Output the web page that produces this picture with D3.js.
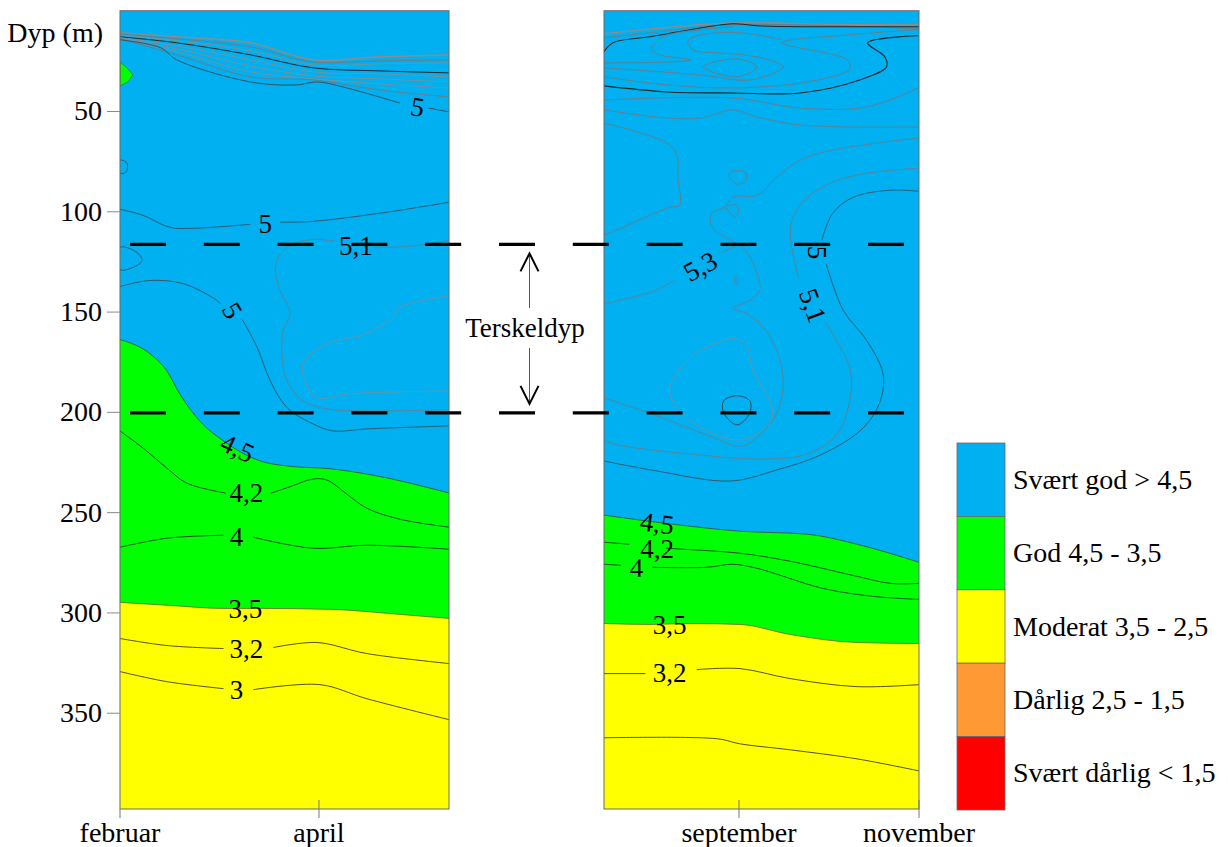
<!DOCTYPE html>
<html><head><meta charset="utf-8">
<script src="https://cdn.jsdelivr.net/npm/d3@7"></script>
<style>
body{margin:0;background:#fff}
svg{display:block}
</style>
</head><body>
<svg id="c" width="1228" height="847"></svg>
<script>
// ---------------- DATA ----------------
const depthTicks = [50, 100, 150, 200, 250, 300, 350];
const leftMonthTicks = [2, 4];
const leftMonthLabels = ["februar", "april"];
const rightMonthTicks = [9, 11];
const rightMonthLabels = ["september", "november"];
const thresholdDepths = [116.5, 200.5];
const thresholdLabel = "Terskeldyp";
const depthLabel = "Dyp (m)";
const legendClasses = ["Svært god > 4,5", "God 4,5 - 3,5", "Moderat 3,5 - 2,5", "Dårlig 2,5 - 1,5", "Svært dårlig < 1,5"];

// LEFT PANEL (x = month number, y = depth m)
const L_iso45 = [[2.0,164],[2.30,171],[2.47,179.5],[2.60,191],[2.80,204.5],[3.04,214.5],[3.41,224.5],[3.68,227],[4.14,228.5],[4.48,231],[5.31,240.5]];
const L_iso35 = [[2.0,295],[2.5,296.5],[3.04,298],[3.44,298],[4.14,298.5],[4.7,300.5],[5.31,303]];
const L_greenPatch = [[2.0,25.5],[2.07,28.5],[2.13,32],[2.08,35.5],[2.0,37.5]];
const L_iso42 = [[[2.0,209.5],[2.23,218],[2.47,228],[2.67,235.5],[3.06,240.5]],[[3.52,240.5],[3.7,237.5],[3.94,233.5],[4.08,234],[4.28,241],[4.48,248],[4.81,253.5],[5.31,257.5]]];
const L_iso40 = [[[2.0,267.5],[2.47,263],[3.04,261.5]],[[3.34,262.5],[3.94,268],[4.48,266.5],[5.31,268.5]]];
const L_iso32 = [[[2.0,313],[2.47,316.5],[3.04,318]],[[3.54,317.5],[3.98,315],[4.48,320.5],[5.31,325.5]]];
const L_iso30 = [[[2.0,329.5],[2.47,334.5],[3.04,338]],[[3.34,338.5],[4.01,336],[4.48,343],[5.31,353.5]]];
const L_iso50a = [[[2.0,99],[2.23,102],[2.50,108],[2.73,108.5],[3.31,106.5]],[[3.61,105.5],[3.94,105],[4.61,101],[5.31,95.5]]];
const L_iso50b = [[[2.0,137.5],[2.30,134.5],[2.63,136],[2.93,143],[3.01,146]],[[3.23,154],[3.38,168],[3.51,184.5],[3.68,198],[3.94,206],[4.14,209.5],[4.48,208.5],[5.31,207]]];
const L_iso51 = [[[5.31,114.5],[4.9,117.5],[4.56,118]],[[4.16,115],[3.94,114],[3.71,117],[3.59,123],[3.56,129.5],[3.61,139.5],[3.71,151],[3.64,159.5],[3.63,173],[3.68,184.5],[3.84,194.5],[4.08,198.5],[4.48,199.5],[5.31,199]]];
const L_iso52 = [[[5.31,142],[4.81,148],[4.74,153],[4.48,161],[4.08,166],[3.84,176],[3.86,184.5],[3.98,193],[4.3,191],[5.31,189.5]]];
const L_loop1 = [[2.0,74.5],[2.07,76],[2.06,80.5],[2.0,81]];
const L_loop2 = [[2.0,118],[2.17,120.5],[2.22,124.5],[2.13,128],[2.0,129]];
const L_bundleMonths = [2.0, 2.57, 3.31, 3.94, 4.61, 5.31];
const L_topA = [11, 13, 16, 24.5, 23, 22];
const L_topB = [11.5, 14, 18, 25.5, 25, 24.5];
const L_topC = [12, 15, 20, 27, 26.5, 26];
const L_topD = [13, 16, 22, 28.5, 30, 31];
const L_topE = [13.5, 17.5, 24.5, 30.5, 31.5, 33];
const L_topF = [13.5, 19, 27.5, 32.5, 34, 35.5];
const L_topG = [14, 20.5, 30.5, 34, 36.5, 38.5];
const L_topH = [14, 22, 33, 34.5, 39.5, 43];
const L_iso50top = [[[2.0,14.5],[2.41,18.5],[2.57,24.5],[3.31,35.5],[3.78,37],[3.98,35.5],[4.24,38],[4.81,46]],[[5.1,48.5],[5.31,50.5]]];

// RIGHT PANEL
const R_iso45 = [[7.5,251.5],[8.26,256],[9.01,259.5],[9.76,261],[10.31,266],[11,275]];
const R_iso35 = [[7.5,305.5],[8.01,306],[8.46,305.5],[9.01,306],[9.57,311],[10.31,315],[11,315.5]];
const R_iso42 = [[[7.5,265],[7.78,266]],[[8.19,268],[8.38,268.5],[9.01,270.5],[9.57,274.5],[10.31,282],[10.68,285.5],[11,285.5]]];
const R_iso40 = [[[7.5,276],[7.69,276.5]],[[8.04,277.5],[8.64,277.5],[8.93,276],[9.2,278],[9.93,288],[10.49,292],[11,293.5]]];
const R_iso32 = [[[7.5,330.5],[7.96,330.5]],[[8.53,328.5],[9.01,328],[9.57,333],[10.31,337],[11,336]]];
const R_iso30 = [[[7.5,362.5],[8.76,363],[9.01,365.5],[9.57,368.5],[10.31,373],[11,379]]];
const R_iso50 = [[[10.99,90],[10.68,89.5],[10.27,93],[10.04,101],[9.92,114.5]],[[9.97,126.5],[10.16,149.5],[10.42,164.5],[10.6,181],[10.57,194.5],[10.38,208],[9.93,221],[9.38,229.5],[8.9,234.5],[8.09,229.5],[7.5,224.5]]];
const R_iso51 = [[[10.99,78.5],[10.42,81],[10.04,85.5],[9.76,93],[9.6,103],[9.57,112],[9.62,125.5],[9.66,133]],[[9.96,155.5],[10.23,178],[10.23,194.5],[10.09,211],[9.76,221],[9.2,223.5],[8.46,221],[7.71,217],[7.5,214.5]]];
const R_iso52 = [[[10.99,63.5],[10.04,69.5],[9.68,74.5],[9.42,83],[9.2,92],[8.93,93],[8.84,98],[8.71,100.5],[8.68,104.5],[8.73,109.5],[8.87,113.5],[9.07,119.5],[9.2,131],[9.23,139.5],[9.12,144.5],[8.93,148.5],[9.09,151],[9.27,158],[9.42,169.5],[9.49,183],[9.46,196],[9.34,206],[9.04,217],[8.64,211.5],[8.09,202],[7.5,193]]];
const R_iso53 = [[[7.5,146],[8.01,140.5],[8.29,134.5]],[[8.81,120.5],[8.96,117.5]]];
const R_iso54 = [[8.23,188],[8.46,173],[8.64,168],[8.93,163.5],[9.07,166],[9.16,179.5],[9.34,194.5],[9.37,203],[9.2,211],[8.98,214],[8.64,209.5],[8.31,198]];
const R_core = [[8.98,192],[9.12,194.5],[9.12,200.5],[8.98,206.5],[8.83,200.5],[8.83,194.5]];
const R_hex = [[8.9,80.5],[9.07,80.5],[9.08,84.5],[8.98,86.5],[8.9,83.5]];
const R_loopS = [[8.84,98],[8.98,97],[8.99,100.5],[8.96,103],[8.88,99.5]];
const R_dot = [[8.96,132.5],[8.98,132.5],[8.98,136.5],[8.96,136.5]];
const R_open1 = [[[7.5,56],[8.2,66],[8.31,72],[8.32,83],[8.34,97],[8.23,98],[7.71,108],[7.5,112]]];
const R_lineE = [[[7.5,49.5],[8.2,53.5],[8.57,53.5],[8.93,49.5],[9.2,53],[9.68,57],[10.99,58]]];
const R_lineD = [[[7.5,44.5],[8.93,43.5],[9.68,48.5],[10.42,48],[10.99,38.5]]];
const R_top4 = [[[7.5,37.5],[8.2,40.5],[8.93,41],[9.68,41],[10.34,34.5],[10.64,28],[10.62,23],[10.43,16],[10.99,12.5]]];
const R_lineA = [[[10.99,9.5],[10.23,12],[9.48,16],[10.2,24.5],[10.23,29],[9.76,35.5],[8.93,38.5],[8.2,37],[7.5,33]]];
const R_lineB = [[[7.5,26],[8.27,25.5],[8.46,24.5],[8.12,22],[8.03,19.5],[8.07,16],[8.18,12.5],[8.57,9.5],[8.93,8]]];
const R_lineC = [[[7.5,28.5],[8.57,32],[9.12,34.5],[9.49,28],[9.2,23],[8.76,21],[8.49,19.5],[8.43,15.5],[8.53,12.5],[9.01,11],[9.48,14.5]]];
const R_diamond = [[8.6,28],[8.98,24],[9.2,28],[8.98,33]];
const R_top1 = [[[7.5,11.5],[8.93,6],[10.04,7],[11,7]]];
const R_top2 = [[[7.5,20.5],[7.6,16],[8.01,13],[8.93,6.5],[9.2,7.5],[11,8]]];
const R_top3 = [[[7.5,13.5],[8.01,11],[8.93,7],[11,9]]];

// contour labels (text, panel, month, depth, angle)
const labelTexts  = ["5","5","5,1","5","4,5","4,2","4","3,5","3,2","3","4,5","4,2","4","3,5","3,2","5,3","5","5,1"];
const labelPanels = ["L","L","L","L","L","L","L","L","L","L","R","R","R","R","R","R","R","R"];
const labelMonths = [4.99,3.46,4.37,3.13,3.18,3.27,3.17,3.26,3.27,3.17,8.09,8.09,7.86,8.23,8.23,8.57,9.87,9.82];
const labelDepths = [48,106,117,149.5,218,240.5,262.5,298,318.3,338.5,255.5,268.5,278,306,330,127.5,120.5,147];
const labelAngles = [10,0,0,60,25,0,0,0,0,0,8,0,0,0,0,-28,90,70];

// ---------------- STYLE / LAYOUT ----------------
const FONT = "'Liberation Serif', 'DejaVu Serif', 'Noto Serif', 'Times New Roman', Times, serif";
const COL = {blue:"#00B0F0", green:"#00FF00", yellow:"#FFFF00", orange:"#FF9933", red:"#FF0000"};
const legendColors = [COL.blue, COL.green, COL.yellow, COL.orange, COL.red];
const SK = {dark:"#262626", mid:"#3d4650", grey:"#6f7880", light:"#868d93"};
const DMAX = 398;

const svg = d3.select("#c").attr("font-family", FONT);
const y = d3.scaleLinear().domain([0, DMAX]).range([10.7, 809]);
const xL = d3.scaleLinear().domain([2, 5.307]).range([120, 449]);
const xR = d3.scaleLinear().domain([7.5, 11]).range([604, 919]);

function txt(sel, size){
  return sel.attr("font-family", FONT).style("font-family", FONT).style("font-size", size+"px").attr("fill","#000");
}

const defs = svg.append("defs");
function clip(id, x){
  defs.append("clipPath").attr("id", id).append("rect")
    .attr("x", x.range()[0]).attr("y", y.range()[0])
    .attr("width", x.range()[1]-x.range()[0]).attr("height", y.range()[1]-y.range()[0]);
}
clip("clipL", xL); clip("clipR", xR);

const single = a => [a];
const bundle = arr => [L_bundleMonths.map((m,i)=>[m, arr[i]])];

const leftLines = [
  {segs:single(L_loop1), closed:true, c:SK.mid, w:0.8},
  {segs:single(L_loop2), closed:true, c:SK.mid, w:0.8},
  {segs:bundle(L_topA), c:SK.light, w:1.6},
  {segs:bundle(L_topB), c:SK.grey, w:0.9},
  {segs:bundle(L_topC), c:SK.light, w:0.9},
  {segs:bundle(L_topD), c:SK.dark, w:1.0},
  {segs:bundle(L_topE), c:SK.light, w:0.9},
  {segs:bundle(L_topF), c:SK.light, w:0.9},
  {segs:bundle(L_topG), c:SK.light, w:0.9},
  {segs:bundle(L_topH), c:SK.grey, w:0.9},
  {segs:L_iso50top, c:SK.mid, w:0.9},
  {segs:L_iso50a, c:SK.mid, w:0.8},
  {segs:L_iso51, c:SK.grey, w:0.8},
  {segs:L_iso52, c:SK.light, w:0.8},
  {segs:L_iso50b, c:SK.mid, w:0.8},
  {segs:L_iso42, c:SK.dark, w:0.8},
  {segs:L_iso40, c:SK.dark, w:0.8},
  {segs:L_iso32, c:SK.dark, w:0.8},
  {segs:L_iso30, c:SK.dark, w:0.8}
];
const rightLines = [
  {segs:R_top1, c:SK.light, w:1.6},
  {segs:R_top3, c:SK.grey, w:0.9},
  {segs:R_top2, c:SK.dark, w:1.1},
  {segs:R_lineA, c:SK.grey, w:0.9},
  {segs:R_lineB, c:SK.grey, w:0.9},
  {segs:R_lineC, c:SK.grey, w:0.9},
  {segs:single(R_diamond), closed:true, c:SK.grey, w:0.9},
  {segs:R_top4, c:SK.dark, w:1.1},
  {segs:R_lineD, c:SK.grey, w:0.9},
  {segs:R_lineE, c:SK.grey, w:0.9},
  {segs:R_open1, c:SK.grey, w:0.9},
  {segs:single(R_hex), closed:true, c:SK.grey, w:0.9},
  {segs:single(R_loopS), closed:true, c:SK.grey, w:0.9},
  {segs:single(R_dot), closed:true, c:SK.grey, w:0.7},
  {segs:R_iso52, c:SK.grey, w:0.8},
  {segs:R_iso53, c:SK.grey, w:0.8},
  {segs:single(R_iso54), closed:true, c:SK.light, w:0.8},
  {segs:single(R_core), closed:true, c:SK.mid, w:1.0},
  {segs:R_iso51, c:SK.grey, w:0.8},
  {segs:R_iso50, c:SK.mid, w:0.8},
  {segs:R_iso42, c:SK.dark, w:0.8},
  {segs:R_iso40, c:SK.dark, w:0.8},
  {segs:R_iso32, c:SK.dark, w:0.8},
  {segs:R_iso30, c:SK.dark, w:0.8}
];

function drawPanel(x, clipId, iso45, iso35, lines, patches){
  const g = svg.append("g").attr("clip-path", `url(#${clipId})`);
  g.append("rect").attr("x", x.range()[0]).attr("y", y(0))
    .attr("width", x.range()[1]-x.range()[0]).attr("height", y(DMAX)-y(0)).attr("fill", COL.blue);
  const area = d3.area().x(p=>x(p[0])).y0(p=>y(p[1])).y1(y(DMAX)).curve(d3.curveMonotoneX);
  const bline = d3.line().x(p=>x(p[0])).y(p=>y(p[1])).curve(d3.curveMonotoneX);
  g.append("path").attr("d", area(iso45)).attr("fill", COL.green);
  g.append("path").attr("d", area(iso35)).attr("fill", COL.yellow);
  patches.forEach(p=>{
    g.append("path").attr("d", d3.line().x(q=>x(q[0])).y(q=>y(q[1])).curve(d3.curveLinearClosed)(p))
      .attr("fill", COL.green).attr("stroke", "#2f7a2f").attr("stroke-width", 0.8);
  });
  g.append("path").attr("d", bline(iso45)).attr("fill","none").attr("stroke","#3b4a3b").attr("stroke-width",0.8);
  g.append("path").attr("d", bline(iso35)).attr("fill","none").attr("stroke","#6a6a2a").attr("stroke-width",0.8);
  const open = d3.line().x(p=>x(p[0])).y(p=>y(p[1])).curve(d3.curveCatmullRom.alpha(0.5));
  const closed = d3.line().x(p=>x(p[0])).y(p=>y(p[1])).curve(d3.curveCatmullRomClosed.alpha(0.5));
  lines.forEach(l=>{
    l.segs.forEach(s=>{
      g.append("path").attr("d", (l.closed?closed:open)(s))
        .attr("fill","none").attr("stroke", l.c).attr("stroke-width", l.w).attr("stroke-linejoin","round");
    });
  });
  svg.append("rect").attr("x", x.range()[0]).attr("y", y(0))
    .attr("width", x.range()[1]-x.range()[0]).attr("height", y(DMAX)-y(0))
    .attr("fill","none").attr("stroke","#6a6a6a").attr("stroke-width",1);
}
drawPanel(xL, "clipL", L_iso45, L_iso35, leftLines, [L_greenPatch]);
drawPanel(xR, "clipR", R_iso45, R_iso35, rightLines, []);

// contour labels
labelTexts.forEach((t,i)=>{
  const x = labelPanels[i]==="L" ? xL : xR;
  txt(svg.append("text"), 27)
    .attr("transform", `translate(${x(labelMonths[i])},${y(labelDepths[i])}) rotate(${labelAngles[i]})`)
    .attr("text-anchor","middle").attr("dy","0.34em").text(t);
});

// y axis
const yAxis = svg.append("g").attr("transform", `translate(${xL.range()[0]},0)`)
  .call(d3.axisLeft(y).tickValues(depthTicks).tickSize(13).tickPadding(5));
yAxis.select(".domain").remove();
yAxis.attr("font-family", FONT).attr("font-size", 28);
yAxis.selectAll(".tick line").attr("stroke","#8a8a8a");
txt(yAxis.selectAll(".tick text"), 28);

txt(svg.append("text"), 28).attr("x", 103).attr("y", 42).attr("text-anchor","end").text(depthLabel);

// x axes
function monthAxis(x, ticks, labels){
  ticks.forEach((m,i)=>{
    svg.append("line").attr("x1", x(m)).attr("x2", x(m))
      .attr("y1", y(DMAX) - (m===x.domain()[0] ? 0 : 9)).attr("y2", y(DMAX)+9)
      .attr("stroke","#777").attr("stroke-width",1);
    txt(svg.append("text"), 28).attr("x", x(m)).attr("y", 842).attr("text-anchor","middle").text(labels[i]);
  });
}
monthAxis(xL, leftMonthTicks, leftMonthLabels);
monthAxis(xR, rightMonthTicks, rightMonthLabels);

// threshold dashed lines
thresholdDepths.forEach(d=>{
  svg.append("line").attr("x1",130).attr("x2",904).attr("y1",y(d)).attr("y2",y(d))
    .attr("stroke","#000").attr("stroke-width",3.2).attr("stroke-dasharray","36 37.8");
});

// Terskeldyp annotation
const ax = 529.5;
const tipTop = y(thresholdDepths[0]) + 9, tipBot = y(thresholdDepths[1]) - 9;
svg.append("line").attr("x1",ax).attr("x2",ax).attr("y1",tipTop+2).attr("y2",308).attr("stroke","#555").attr("stroke-width",1);
svg.append("line").attr("x1",ax).attr("x2",ax).attr("y1",348).attr("y2",tipBot-2).attr("stroke","#555").attr("stroke-width",1);
svg.append("path").attr("d",`M${ax-9},${tipTop+18}L${ax},${tipTop}L${ax+9},${tipTop+18}`)
  .attr("fill","none").attr("stroke","#000").attr("stroke-width",2);
svg.append("path").attr("d",`M${ax-9},${tipBot-18}L${ax},${tipBot}L${ax+9},${tipBot-18}`)
  .attr("fill","none").attr("stroke","#000").attr("stroke-width",2);
txt(svg.append("text"), 27).attr("x",525).attr("y",337).attr("text-anchor","middle").text(thresholdLabel);

// legend
const lgX = 957, lgY = 443, lgW = 48, lgH = 73.4;
legendClasses.forEach((t,i)=>{
  svg.append("rect").attr("x",lgX).attr("y",lgY+i*lgH).attr("width",lgW).attr("height",lgH)
    .attr("fill",legendColors[i]).attr("stroke","#6a6a6a").attr("stroke-width",0.8);
  txt(svg.append("text"), 28).attr("x",lgX+56).attr("y",lgY+i*lgH+lgH/2+9).text(t);
});
</script>
</body></html>
